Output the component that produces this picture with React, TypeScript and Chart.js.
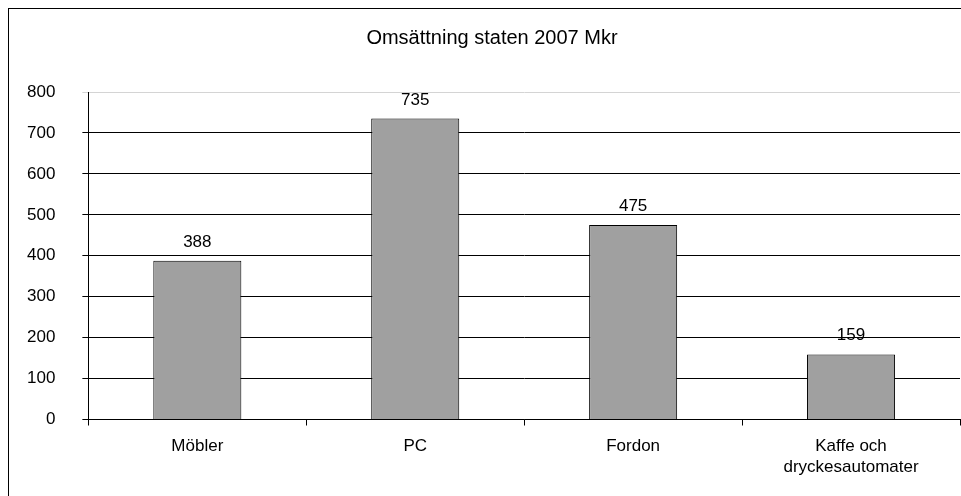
import React, { useEffect, useRef } from "react";
import { Chart, registerables } from "chart.js";

Chart.register(...registerables);

const categories: (string | string[])[] = ["Möbler", "PC", "Fordon", ["Kaffe och", "dryckesautomater"]];
const values: number[] = [388, 735, 475, 159];
const chartTitle = "Omsättning staten 2007 Mkr";
const yMin = 0;
const yMax = 800;
const yStep = 100;

const FONT = "'Liberation Sans', Arial, sans-serif";

const frameAndLabels = {
  id: "frameAndLabels",
  afterDraw(chart: any) {
    const ctx = chart.ctx;
    ctx.save();
    ctx.strokeStyle = "#000";
    ctx.lineWidth = 1;
    ctx.strokeRect(8.5, 8.5, 2000, 2000);
    // title, centred on the (wider) outer frame
    ctx.fillStyle = "#000";
    ctx.font = `20px ${FONT}`;
    ctx.textAlign = "center";
    ctx.textBaseline = "middle";
    ctx.fillText(chartTitle, 492, 38);
    // value labels
    const meta = chart.getDatasetMeta(0);
    ctx.font = `17px ${FONT}`;
    ctx.textBaseline = "alphabetic";
    meta.data.forEach((bar: any, i: number) => {
      ctx.fillText(String(values[i]), bar.x, bar.y - 14);
    });
    ctx.restore();
  },
};

export default function App() {
  const ref = useRef<HTMLCanvasElement | null>(null);
  useEffect(() => {
    if (!ref.current) return;
    const chart = new Chart(ref.current, {
      type: "bar",
      data: {
        labels: categories,
        datasets: [
          {
            data: values,
            backgroundColor: "#a0a0a0",
            borderColor: "#000",
            borderWidth: 1,
            barPercentage: 1,
            categoryPercentage: 0.404,
          },
        ],
      },
      options: {
        responsive: false,
        animation: false,
        devicePixelRatio: 1,
        layout: { padding: { left: 0, right: 1, top: 0, bottom: 8 } },
        plugins: {
          legend: { display: false },
          tooltip: { enabled: false },
          title: {
            display: true,
            text: chartTitle,
            color: "rgba(0,0,0,0)",
            font: { family: FONT, size: 20, weight: "normal", lineHeight: 1.2 },
            padding: { top: 27, bottom: 41 },
          },
        },
        scales: {
          x: {
            offset: true,
            afterFit(scale: any) {
              scale.paddingLeft = 0;
              scale.paddingRight = 0;
            },
            grid: {
              display: true,
              offset: true,
              drawOnChartArea: false,
              drawTicks: true,
              tickLength: 6,
              color: "#000",
            },
            border: { display: true, color: "#000", width: 1 },
            ticks: {
              color: "#000",
              padding: 10,
              maxRotation: 0,
              autoSkip: false,
              font: { family: FONT, size: 17, lineHeight: 1.25 },
            },
          },
          y: {
            min: yMin,
            max: yMax,
            grid: {
              color: (c: any) => (c.tick && c.tick.value === yMax ? "#d4d4d4" : "#000"),
              lineWidth: 1,
              tickLength: 6,
              drawTicks: true,
            },
            border: { display: true, color: "#000", width: 1 },
            ticks: {
              stepSize: yStep,
              color: "#000",
              padding: 27,
              font: { family: FONT, size: 17 },
            },
          },
        },
      },
      plugins: [frameAndLabels],
    });
    return () => chart.destroy();
  }, []);
  return (
    <div style={{ position: "fixed", left: 0, top: 0, width: 961, height: 496, background: "#fff" }}>
      <canvas ref={ref} width={961} height={496} />
    </div>
  );
}
